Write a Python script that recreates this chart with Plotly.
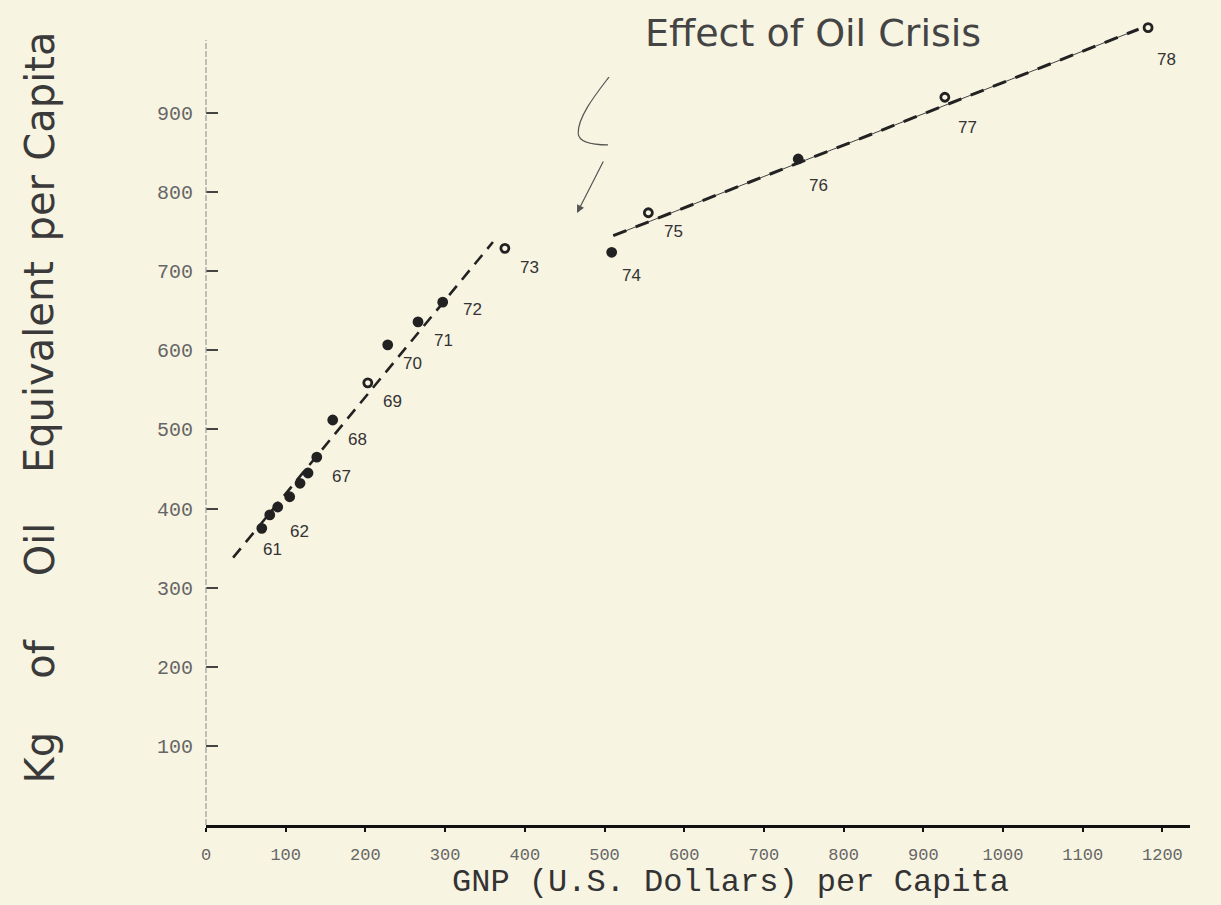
import plotly.graph_objects as go

# ---- data ----
years = [61, 62, 63, 64, 65, 66, 67, 68, 69, 70, 71, 72, 73, 74, 75, 76, 77, 78]
gnp = [70, 80, 90, 105, 118, 128, 139, 159, 203, 228, 266, 297, 375, 509, 555, 743, 927, 1182]
energy = [375, 392, 402, 415, 432, 445, 465, 512, 559, 607, 636, 661, 729, 724, 774, 842, 920, 1008]
labeled_years = [61, 62, 67, 68, 69, 70, 71, 72, 73, 74, 75, 76, 77, 78]
open_years = [69, 73, 75, 77, 78]

trend_pre_gnp = [34, 360]
trend_pre_energy = [338, 737]
trend_post_gnp = [511, 1170]
trend_post_energy = [745, 1006]

x_ticks = [0, 100, 200, 300, 400, 500, 600, 700, 800, 900, 1000, 1100, 1200]
y_ticks = [100, 200, 300, 400, 500, 600, 700, 800, 900]

y_title_words = ["Kg", "of", "Oil", "Equivalent", "per", "Capita"]
annotation_text = "Effect of Oil Crisis"
x_title = "GNP (U.S. Dollars) per Capita"

BG = "#f8f4e2"
INK = "#222222"

# label placement style (pixel shifts), default and a few exceptions
LABEL_SHIFT = (25, -19)
LABEL_SHIFT_SPECIAL = {61: (11, -21), 62: (30, -17), 72: (30, -7), 74: (20, -23),
                       76: (20, -27), 77: (23, -30), 78: (18, -32)}

fig = go.Figure()

# pre-crisis trend (dashed)
fig.add_trace(go.Scatter(x=trend_pre_gnp, y=trend_pre_energy, mode="lines",
                         line=dict(color=INK, width=2.6, dash="12px,8px"),
                         hoverinfo="skip", showlegend=False))
# post-crisis trend: thin line with thick dashes
fig.add_trace(go.Scatter(x=trend_post_gnp, y=trend_post_energy, mode="lines",
                         line=dict(color="#444", width=1),
                         hoverinfo="skip", showlegend=False))
fig.add_trace(go.Scatter(x=trend_post_gnp, y=trend_post_energy, mode="lines",
                         line=dict(color=INK, width=3, dash="14px,10px"),
                         hoverinfo="skip", showlegend=False))

symbols = ["circle-open" if yr in open_years else "circle" for yr in years]
fig.add_trace(go.Scatter(x=gnp, y=energy, mode="markers",
                         marker=dict(symbol=symbols, size=8, color=INK,
                                     line=dict(color=INK, width=2.8)),
                         cliponaxis=False, showlegend=False))

annotations = []
for xv, yv, yr in zip(gnp, energy, years):
    if yr in labeled_years:
        dx, dy = LABEL_SHIFT_SPECIAL.get(yr, LABEL_SHIFT)
        annotations.append(dict(x=xv, y=yv, xref="x", yref="y", text=str(yr),
                                showarrow=False, xshift=dx, yshift=dy,
                                xanchor="center", yanchor="middle",
                                font=dict(family="Liberation Sans", size=17, color="#333")))

# y-axis title, handwritten style, word by word
word_pos = [0.083, 0.205, 0.34, 0.565, 0.762, 0.9]
for w, yp in zip(y_title_words, word_pos):
    annotations.append(dict(x=-0.169, y=yp, xref="paper", yref="paper", text=w,
                            textangle=-90, showarrow=False,
                            xanchor="center", yanchor="middle",
                            font=dict(family="DejaVu Sans", size=40, color="#3a3a3a")))

annotations.append(dict(x=0.617, y=0.978, xref="paper", yref="paper",
                        text=annotation_text, showarrow=False,
                        xanchor="center", yanchor="middle",
                        font=dict(family="DejaVu Sans", size=38, color="#444")))

annotations.append(dict(x=0.533, y=-0.0716, xref="paper", yref="paper",
                        text=x_title, showarrow=False, xanchor="center", yanchor="middle",
                        font=dict(family="Liberation Mono", size=32, color="#333")))

# arrow pointing into the gap
annotations.append(dict(x=465.5, y=773.7, ax=499.4, ay=840.7, xref="x", yref="y",
                        axref="x", ayref="y", text="", showarrow=True,
                        arrowhead=2, arrowsize=1.3, arrowwidth=1.2,
                        arrowcolor="#555", standoff=0))

shapes = [
    dict(type="path", xref="x", yref="y",
         path="M 505.6,945.6 C 490,925 466,895 467,874 Q 468,860 504.4,859.7",
         line=dict(color="#555", width=1.2)),
    dict(type="line", xref="paper", yref="paper", x0=0, x1=0, y0=0, y1=0.969,
         line=dict(color="#9a9a9a", width=1.2, dash="6px,2px")),
]

fig.update_layout(
    width=1221, height=905,
    margin=dict(l=206, r=31, t=15, b=80),
    paper_bgcolor=BG, plot_bgcolor=BG,
    annotations=annotations, shapes=shapes,
    showlegend=False,
    xaxis=dict(range=[0, 1234.6], tickvals=x_ticks, ticktext=[str(v) for v in x_ticks],
               showgrid=False, zeroline=False, showline=True, linecolor="#111",
               linewidth=2.5, ticks="outside", ticklen=4, tickwidth=1.5, tickcolor="#111",
               ticklabelstandoff=8,
               tickfont=dict(family="Liberation Mono", size=17, color="#666")),
    yaxis=dict(range=[0, 1024], tickvals=y_ticks, ticktext=[str(v) for v in y_ticks],
               showgrid=False, zeroline=False, showline=False,
               ticks="inside", ticklen=12, tickwidth=1.5, tickcolor="#444",
               ticklabelstandoff=12,
               tickfont=dict(family="Liberation Mono", size=20, color="#666")),
)

fig.write_html("out.html")
